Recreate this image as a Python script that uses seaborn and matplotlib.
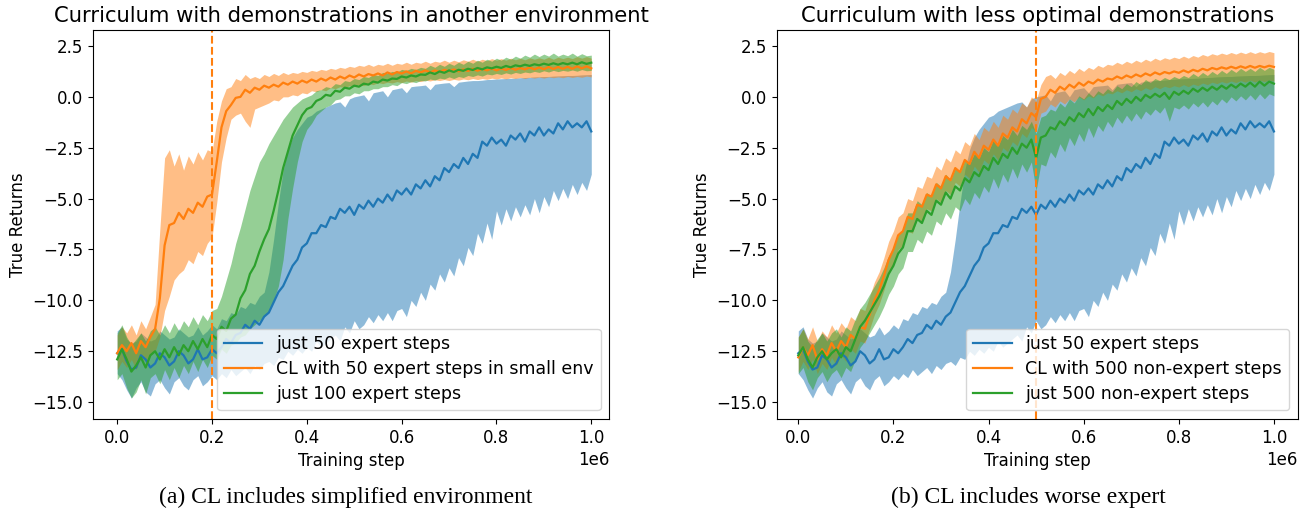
import numpy as np
import matplotlib
matplotlib.use("Agg")
import matplotlib.pyplot as plt
import seaborn as sns

# ---------------- data ----------------
steps = np.linspace(0, 1e6, 101)

# shared baseline: just 50 expert steps
blue_mean = [-12.6,-12.4,-13.0,-13.4,-13.3,-12.7,-12.9,-13.3,-13.1,-12.6,-12.8,-13.2,-13.0,-12.5,-12.7,-13.1,-12.9,-12.4,-12.9,-12.8,
             -12.4,-12.6,-12.3,-11.9,-12.1,-11.7,-11.6,-11.2,-11.4,-11.0,-11.2,-10.8,-10.6,-10.1,-9.6,-9.3,-8.8,-8.3,-8.0,-7.4,
             -7.2,-6.7,-6.7,-6.3,-6.4,-5.9,-6.0,-5.5,-5.7,-5.4,-5.8,-5.3,-5.5,-5.1,-5.4,-5.0,-5.2,-4.8,-5.1,-4.6,
             -4.8,-4.5,-4.8,-4.3,-4.5,-4.1,-4.4,-3.9,-4.1,-3.5,-3.7,-3.3,-3.5,-3.0,-3.3,-2.8,-3.0,-2.2,-2.4,-2.0,
             -2.3,-2.1,-2.4,-1.9,-2.1,-1.8,-2.2,-1.7,-1.9,-1.5,-1.9,-1.6,-1.8,-1.3,-1.6,-1.2,-1.5,-1.3,-1.5,-1.2,-1.7]
blue_lo = [-13.6,-13.9,-14.4,-14.8,-14.3,-14.0,-14.5,-14.7,-14.1,-13.9,-14.3,-14.6,-14.0,-13.8,-14.2,-14.4,-13.9,-13.7,-14.2,-14.0,
           -13.7,-13.9,-13.6,-13.8,-13.4,-13.7,-13.5,-13.3,-13.6,-13.2,-13.4,-13.1,-13.0,-13.2,-12.8,-12.9,-12.5,-12.7,-12.4,-12.6,
           -12.3,-12.5,-12.0,-12.3,-12.1,-11.9,-11.7,-12.0,-11.3,-11.6,-11.0,-11.4,-11.2,-10.8,-11.1,-10.7,-11.0,-10.6,-11.0,-10.5,
           -10.4,-10.8,-10.0,-10.3,-9.6,-10.0,-9.2,-9.5,-8.7,-9.1,-8.4,-8.8,-7.9,-8.3,-7.4,-7.8,-6.7,-7.2,-6.2,-7.0,
           -5.6,-6.3,-5.5,-6.1,-5.4,-5.9,-5.3,-5.8,-5.0,-5.7,-4.9,-5.4,-4.6,-5.1,-4.5,-5.0,-4.3,-4.8,-4.2,-4.6,-3.8]
blue_hi = [-11.5,-11.3,-11.9,-12.1,-12.0,-11.6,-11.8,-12.0,-11.9,-11.5,-11.7,-11.9,-11.8,-11.4,-11.6,-11.8,-11.7,-11.3,-11.7,-11.5,
           -11.2,-11.4,-10.9,-11.0,-10.6,-10.7,-10.3,-10.4,-10.1,-10.2,-9.8,-9.6,-8.6,-7.0,-5.2,-3.6,-2.6,-2.0,-1.6,-1.3,
           -1.0,-0.9,-0.7,-0.6,-0.5,-0.4,-0.3,-0.25,-0.5,-0.1,0.0,0.05,0.1,-0.2,0.2,0.25,0.3,0.0,0.35,0.4,
           0.45,0.2,0.5,0.53,0.55,0.58,0.35,0.62,0.65,0.68,0.7,0.5,0.72,0.75,0.78,0.8,0.8,0.82,0.85,0.86,
           0.88,0.89,0.9,0.91,0.92,0.94,0.95,0.96,0.98,0.99,1.0,1.0,1.02,1.03,1.04,1.05,1.05,1.06,1.08,1.09,1.1]

# (a) CL with 50 expert steps in small env
a_or_mean = [-12.6,-12.2,-12.5,-12.1,-12.6,-12.0,-12.3,-11.8,-11.4,-9.9,-7.3,-6.3,-6.2,-5.7,-6.0,-5.5,-5.7,-5.2,-5.4,-4.9,
             -4.8,-3.2,-1.5,-0.7,-0.4,-0.05,0.0,0.35,0.2,0.45,0.35,0.55,0.45,0.6,0.5,0.7,0.6,0.75,0.65,0.8,
             0.7,0.85,0.75,0.9,0.8,0.95,0.85,1.0,0.9,1.05,0.95,1.1,1.0,1.12,1.05,1.15,1.05,1.2,1.1,1.22,
             1.15,1.25,1.15,1.28,1.2,1.3,1.2,1.3,1.22,1.33,1.25,1.35,1.25,1.35,1.27,1.38,1.28,1.38,1.3,1.4,
             1.3,1.4,1.32,1.42,1.33,1.42,1.35,1.45,1.35,1.45,1.36,1.47,1.37,1.47,1.38,1.48,1.38,1.5,1.4,1.5,1.4]
a_or_lo = [-13.4,-13.0,-13.3,-12.9,-13.4,-12.8,-13.0,-12.7,-12.5,-11.8,-10.5,-9.8,-9.0,-8.7,-8.5,-8.0,-8.2,-7.6,-7.8,-7.2,
           -6.9,-5.2,-3.2,-2.0,-1.1,-0.9,-0.8,-1.2,-1.5,-0.6,-0.5,-0.4,-0.3,-0.15,-0.2,0.0,0.0,0.1,0.05,0.2,
           0.15,0.3,0.25,0.35,0.3,0.45,0.4,0.5,0.45,0.55,0.5,0.6,0.55,0.65,0.6,0.7,0.65,0.72,0.68,0.75,
           0.7,0.78,0.72,0.8,0.75,0.82,0.78,0.84,0.8,0.85,0.8,0.86,0.82,0.88,0.84,0.9,0.85,0.9,0.86,0.92,
           0.88,0.93,0.88,0.94,0.9,0.95,0.9,0.96,0.92,0.97,0.92,0.98,0.94,0.98,0.94,1.0,0.95,1.0,0.96,1.02,0.98]
a_or_hi = [-11.7,-11.3,-11.6,-11.2,-11.7,-11.0,-11.4,-10.8,-10.2,-6.5,-3.0,-2.6,-3.4,-2.8,-3.6,-2.9,-3.3,-2.7,-3.1,-2.6,
           -2.7,-1.2,-0.2,0.4,0.5,0.9,0.8,1.1,0.9,1.0,0.9,1.1,1.0,1.15,1.05,1.2,1.1,1.2,1.15,1.25,
           1.2,1.3,1.25,1.35,1.3,1.4,1.35,1.45,1.4,1.5,1.45,1.55,1.5,1.6,1.5,1.6,1.55,1.65,1.55,1.65,
           1.6,1.7,1.6,1.7,1.65,1.75,1.65,1.75,1.7,1.8,1.7,1.8,1.72,1.82,1.75,1.85,1.75,1.85,1.78,1.88,
           1.8,1.88,1.8,1.9,1.82,1.9,1.82,1.92,1.85,1.92,1.85,1.95,1.85,1.95,1.88,1.95,1.88,1.98,1.9,1.98,1.9]

# (a) just 100 expert steps
a_gr_mean = [-12.9,-12.4,-12.9,-13.5,-13.2,-12.8,-13.3,-12.7,-12.5,-12.9,-12.4,-12.8,-12.3,-12.7,-12.2,-12.5,-12.0,-12.4,-11.9,-12.3,
             -11.7,-11.9,-11.3,-11.5,-10.9,-10.7,-9.9,-9.5,-8.7,-8.3,-7.6,-7.0,-6.5,-5.6,-4.6,-3.5,-2.7,-1.9,-1.4,-0.9,
             -0.6,-0.5,-0.2,-0.1,0.1,0.05,0.3,0.25,0.45,0.4,0.55,0.5,0.65,0.6,0.75,0.7,0.85,0.8,0.9,0.88,
             1.0,0.95,1.05,1.0,1.1,1.08,1.2,1.12,1.25,1.18,1.3,1.22,1.33,1.28,1.38,1.32,1.42,1.35,1.45,1.4,
             1.48,1.42,1.52,1.45,1.55,1.5,1.58,1.52,1.6,1.55,1.63,1.57,1.65,1.58,1.66,1.6,1.68,1.6,1.7,1.62,1.68]
a_gr_lo = [-13.9,-13.6,-14.3,-14.8,-14.5,-13.9,-14.6,-13.8,-13.6,-14.1,-13.4,-13.9,-13.3,-13.8,-13.2,-13.6,-13.0,-13.5,-12.9,-13.3,
           -12.7,-12.9,-12.4,-12.6,-12.2,-12.1,-11.8,-11.7,-11.4,-11.2,-11.0,-10.8,-10.5,-10.0,-9.3,-8.0,-6.0,-4.5,-3.2,-2.2,
           -1.6,-1.3,-0.9,-0.7,-0.5,-0.4,-0.15,-0.1,0.05,0.05,0.2,0.15,0.3,0.3,0.4,0.4,0.5,0.5,0.6,0.55,
           0.7,0.65,0.75,0.7,0.8,0.78,0.88,0.82,0.92,0.88,0.98,0.9,1.0,0.95,1.05,1.0,1.08,1.02,1.12,1.08,
           1.15,1.1,1.18,1.12,1.2,1.15,1.22,1.18,1.25,1.2,1.28,1.22,1.3,1.24,1.3,1.26,1.32,1.26,1.34,1.28,1.3]
a_gr_hi = [-11.6,-11.2,-11.8,-12.2,-11.9,-11.6,-12.0,-11.5,-11.3,-11.7,-11.2,-11.6,-11.1,-11.5,-11.0,-11.3,-10.8,-11.2,-10.7,-11.0,
           -10.5,-10.4,-9.8,-9.0,-8.2,-7.2,-6.4,-5.5,-4.6,-3.9,-3.2,-2.8,-2.3,-1.9,-1.5,-1.1,-0.8,-0.5,-0.3,-0.1,
           0.0,0.1,0.3,0.35,0.5,0.45,0.65,0.6,0.8,0.75,0.9,0.85,1.0,0.95,1.1,1.05,1.2,1.15,1.25,1.2,
           1.35,1.3,1.4,1.35,1.45,1.4,1.55,1.45,1.6,1.5,1.65,1.55,1.7,1.6,1.75,1.65,1.8,1.7,1.85,1.75,
           1.9,1.8,1.95,1.85,2.0,1.9,2.05,1.95,2.1,1.98,2.1,2.0,2.15,2.0,2.1,2.02,2.15,2.0,2.12,2.02,2.05]

# (b) CL with 500 non-expert steps
b_or_mean = [-12.8,-12.3,-12.7,-12.2,-12.9,-12.4,-12.7,-12.1,-12.5,-12.0,-12.3,-11.7,-11.9,-11.3,-11.4,-10.7,-10.0,-9.5,-8.8,-8.0,
             -7.5,-6.8,-6.6,-5.9,-6.0,-5.3,-5.4,-4.8,-4.9,-4.3,-4.5,-3.9,-4.1,-3.5,-3.7,-3.1,-3.3,-2.7,-3.0,-2.4,
             -2.6,-2.1,-2.4,-1.8,-2.0,-1.5,-1.7,-1.1,-1.3,-0.8,-1.0,-0.1,0.0,0.35,0.2,0.5,0.35,0.6,0.45,0.7,
             0.55,0.75,0.65,0.85,0.75,0.9,0.85,1.0,0.9,1.05,0.95,1.1,1.0,1.15,1.05,1.2,1.1,1.22,1.15,1.25,
             1.18,1.3,1.2,1.33,1.25,1.38,1.3,1.42,1.35,1.45,1.38,1.48,1.4,1.5,1.42,1.52,1.43,1.52,1.45,1.53,1.47]
b_or_lo = [-13.5,-13.0,-13.4,-12.9,-13.6,-13.1,-13.4,-12.8,-13.2,-12.7,-13.0,-12.4,-12.6,-12.0,-12.1,-11.4,-10.7,-10.2,-9.5,-8.7,
           -8.2,-7.5,-7.3,-6.6,-6.7,-6.0,-6.1,-5.5,-5.6,-5.0,-5.2,-4.6,-4.8,-4.2,-4.4,-3.8,-4.0,-3.4,-3.7,-3.1,
           -3.3,-2.8,-3.1,-2.5,-2.7,-2.2,-2.4,-1.8,-2.0,-1.5,-1.7,-0.8,-0.7,-0.35,-0.5,-0.2,-0.35,-0.1,-0.25,0.0,
           -0.15,0.05,-0.05,0.15,0.05,0.2,0.15,0.3,0.2,0.35,0.25,0.4,0.3,0.45,0.35,0.5,0.4,0.52,0.45,0.55,
           0.48,0.6,0.5,0.63,0.55,0.68,0.6,0.72,0.65,0.75,0.68,0.78,0.7,0.8,0.72,0.82,0.73,0.82,0.75,0.83,0.77]
b_or_hi = [-11.8,-11.4,-11.9,-11.3,-12.0,-11.5,-11.8,-11.2,-11.6,-11.1,-11.4,-10.8,-11.0,-10.4,-10.5,-9.8,-9.1,-8.6,-7.9,-7.1,
           -6.6,-5.9,-5.7,-5.0,-5.1,-4.4,-4.5,-3.9,-4.0,-3.4,-3.6,-3.0,-3.2,-2.6,-2.8,-2.2,-2.4,-1.8,-2.1,-1.5,
           -1.7,-1.2,-1.5,-0.9,-1.1,-0.6,-0.8,-0.3,-0.5,0.0,-0.2,0.6,1.0,1.1,0.9,1.2,1.05,1.3,1.15,1.4,
           1.25,1.45,1.35,1.55,1.45,1.6,1.55,1.7,1.6,1.75,1.65,1.8,1.7,1.85,1.75,1.9,1.8,1.92,1.85,1.95,
           1.88,2.0,1.9,2.03,1.95,2.08,2.0,2.12,2.05,2.15,2.08,2.18,2.1,2.2,2.12,2.22,2.13,2.22,2.15,2.23,2.17]

# (b) just 500 non-expert steps
b_gr_mean = [-12.7,-12.3,-12.9,-13.3,-12.8,-12.5,-12.9,-12.6,-12.4,-12.8,-12.3,-12.5,-11.9,-11.3,-11.0,-10.6,-10.2,-9.8,-9.3,-8.7,
             -8.3,-7.7,-7.4,-6.6,-6.6,-6.0,-6.2,-5.6,-5.8,-5.1,-5.3,-4.7,-5.0,-4.4,-4.6,-4.0,-4.2,-3.7,-3.9,-3.4,
             -3.6,-3.0,-3.3,-2.8,-3.0,-2.5,-2.8,-2.3,-2.5,-2.1,-3.0,-2.0,-1.9,-1.5,-1.6,-1.2,-1.4,-1.0,-1.2,-0.8,
             -1.0,-0.6,-0.9,-0.5,-0.7,-0.4,-0.6,-0.2,-0.4,-0.1,-0.3,0.0,-0.2,0.1,-0.05,0.15,0.0,0.2,-0.1,0.25,
             0.1,0.3,0.15,0.4,0.25,0.45,0.3,0.5,0.35,0.55,0.4,0.6,0.45,0.65,0.5,0.7,0.5,0.75,0.55,0.75,0.65]
b_gr_lo = [-13.6,-13.3,-14.0,-14.4,-13.8,-13.5,-14.0,-13.6,-13.4,-13.8,-13.3,-13.5,-12.9,-12.3,-12.0,-11.6,-11.2,-10.8,-10.3,-9.7,
           -9.3,-8.7,-8.4,-7.6,-7.6,-7.0,-7.2,-6.6,-6.8,-6.1,-6.3,-5.7,-6.0,-5.4,-5.6,-5.0,-5.3,-4.7,-5.0,-4.4,
           -4.7,-4.0,-4.5,-3.8,-4.2,-3.5,-4.0,-3.3,-3.7,-3.2,-4.6,-3.3,-3.4,-2.7,-3.0,-2.3,-2.7,-2.0,-2.4,-1.8,
           -2.2,-1.5,-2.0,-1.4,-1.7,-1.2,-1.5,-1.0,-1.3,-0.9,-1.2,-0.8,-1.1,-0.7,-0.9,-0.6,-0.8,-0.5,-1.2,-0.5,
           -0.6,-0.4,-0.6,-0.3,-0.5,-0.25,-0.5,-0.2,-0.4,-0.1,-0.3,0.0,-0.2,0.05,-0.15,0.1,-0.15,0.15,-0.1,0.15,0.05]
b_gr_hi = [-11.8,-11.4,-12.0,-12.3,-11.9,-11.6,-12.0,-11.6,-11.4,-11.8,-11.3,-11.5,-10.9,-10.4,-10.1,-9.7,-9.3,-8.9,-8.4,-7.8,
           -7.4,-6.8,-6.5,-5.7,-5.7,-5.1,-5.3,-4.7,-4.9,-4.2,-4.4,-3.8,-4.1,-3.5,-3.7,-3.1,-3.3,-2.8,-3.0,-2.5,
           -2.7,-2.1,-2.4,-1.9,-2.1,-1.6,-1.9,-1.4,-1.6,-1.2,-1.8,-1.0,-0.9,-0.6,-0.7,-0.3,-0.5,-0.1,-0.3,0.05,
           -0.1,0.2,0.0,0.3,0.15,0.4,0.25,0.55,0.4,0.65,0.5,0.75,0.6,0.85,0.7,0.9,0.8,0.95,0.85,1.0,
           0.9,1.05,0.95,1.15,1.0,1.2,1.05,1.25,1.1,1.3,1.15,1.35,1.2,1.4,1.25,1.4,1.25,1.45,1.3,1.45,1.35]

titles = ["Curriculum with demonstrations in another environment",
          "Curriculum with less optimal demonstrations"]
captions = ["(a) CL includes simplified environment",
            "(b) CL includes worse expert"]
labels_a = ["just 50 expert steps", "CL with 50 expert steps in small env", "just 100 expert steps"]
labels_b = ["just 50 expert steps", "CL with 500 non-expert steps", "just 500 non-expert steps"]
switch_steps = [0.2e6, 0.5e6]

colors = ["#1f77b4", "#ff7f0e", "#2ca02c"]

# ---------------- figure ----------------
plt.rcParams['font.family'] = ['DejaVu Sans']
plt.rcParams['font.size'] = 12

fig = plt.figure(figsize=(13.04, 5.12), dpi=100)
ax_a = fig.add_axes([93/1304, 1-419/512, (609.3-93)/1304, (419-30.3)/512])
ax_b = fig.add_axes([776.7/1304, 1-419/512, (1297.7-776.7)/1304, (419-30.3)/512])

panels = [
    (ax_a, [(blue_mean, blue_lo, blue_hi), (a_or_mean, a_or_lo, a_or_hi), (a_gr_mean, a_gr_lo, a_gr_hi)], labels_a, (-0.051e6, 1.038e6)),
    (ax_b, [(blue_mean, blue_lo, blue_hi), (b_or_mean, b_or_lo, b_or_hi), (b_gr_mean, b_gr_lo, b_gr_hi)], labels_b, (-0.0454e6, 1.05e6)),
]

for k, (ax, series, labels, xl) in enumerate(panels):
    for (m, lo, hi), lab, c in zip(series, labels, colors):
        ax.fill_between(steps, lo, hi, color=c, alpha=0.5, linewidth=0)
        sns.lineplot(x=steps, y=m, ax=ax, color=c, linewidth=1.6, label=lab)
    ax.axvline(switch_steps[k], color="#ff7f0e", linestyle="--", linewidth=1.5)
    ax.set_xlim(*xl)
    ax.set_ylim(-15.83, 3.27)
    ax.set_yticks([2.5, 0.0, -2.5, -5.0, -7.5, -10.0, -12.5, -15.0])
    ax.set_xticks([0, 0.2e6, 0.4e6, 0.6e6, 0.8e6, 1.0e6])
    ax.set_title(titles[k], fontsize=15.2)
    ax.set_xlabel("Training step")
    ax.set_ylabel("True Returns")
    ax.legend(loc="lower right", fontsize=12.5, labelspacing=0.4, handlelength=2.2)

fig.text(346/1304, 1-497/512, captions[0], ha="center", va="center",
         family="Liberation Serif", fontsize=17)
fig.text(1028/1304, 1-497/512, captions[1], ha="center", va="center",
         family="Liberation Serif", fontsize=17)

fig.savefig("out.png", dpi=100)
